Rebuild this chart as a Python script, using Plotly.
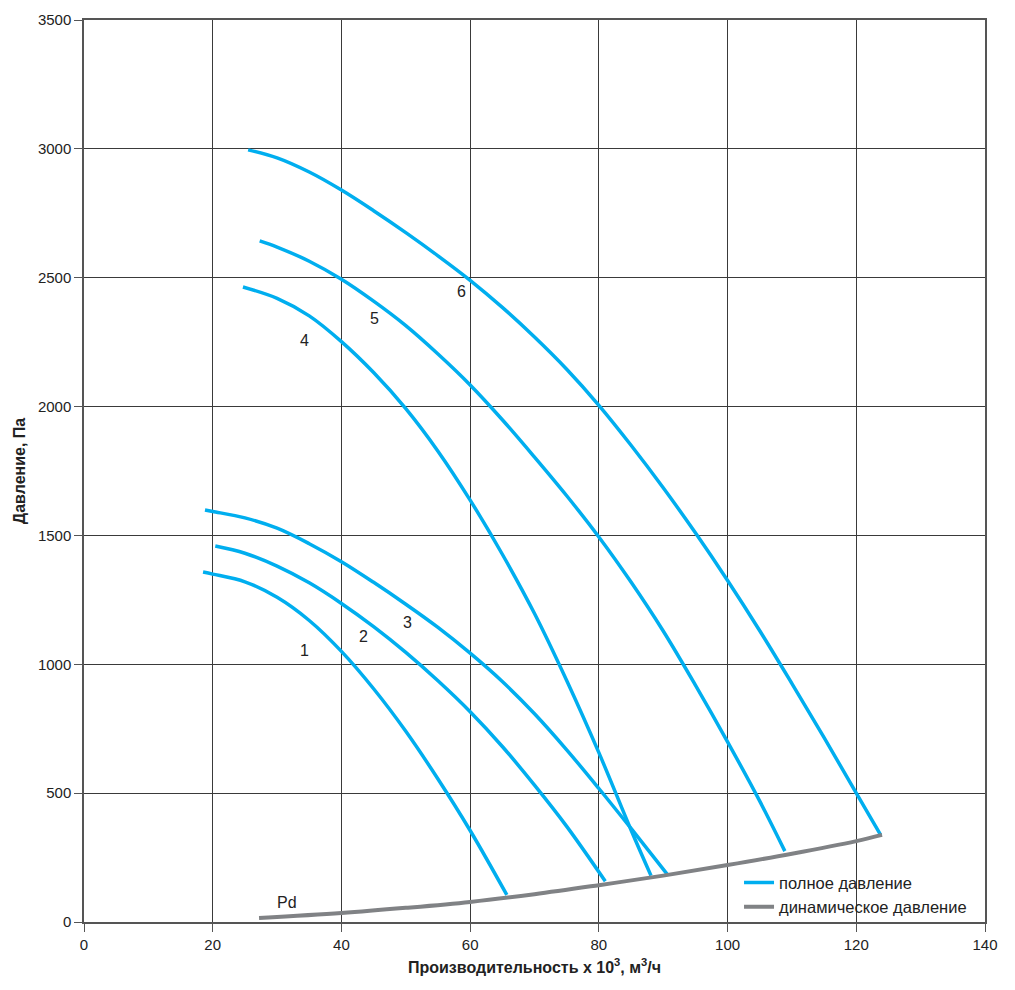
import plotly.graph_objects as go

# fan curves, flow x 10^3 m3/h vs total pressure Pa
x1 = [18.5, 20, 25, 30, 35, 40, 45, 50, 55, 60, 65.7]
p1 = [1358, 1350, 1320, 1260, 1170, 1050, 905, 740, 555, 355, 105]

x2 = [20.4, 25, 30, 35, 40, 45, 50, 55, 60, 65, 70, 75, 81]
p2 = [1459, 1431, 1381, 1316, 1236, 1146, 1046, 936, 816, 681, 531, 371, 158]

x3 = [18.8, 20, 25, 30, 35, 40, 45, 50, 55, 60, 65, 70, 75, 80, 85, 90.7]
p3 = [1599, 1593, 1568, 1528, 1468, 1398, 1318, 1233, 1143, 1043, 933, 808, 668, 518, 363, 183]

x4 = [24.7, 30, 35, 40, 45, 50, 55, 60, 65, 70, 75, 80, 85, 88.1]
p4 = [2464, 2420, 2352, 2252, 2132, 1992, 1827, 1637, 1427, 1197, 937, 657, 357, 180]

x5 = [27.3, 30, 35, 40, 45, 50, 55, 60, 65, 70, 75, 80, 85, 90, 95, 100, 105, 108.9]
p5 = [2643, 2619, 2564, 2494, 2409, 2314, 2204, 2084, 1949, 1804, 1654, 1494, 1319, 1129, 919, 699, 469, 275]

x6 = [25.5, 30, 35, 40, 45, 50, 55, 60, 65, 70, 75, 80, 85, 90, 95, 100, 105, 110, 115, 120, 123.8]
p6 = [2996, 2965, 2910, 2840, 2760, 2675, 2585, 2490, 2385, 2270, 2145, 2005, 1850, 1685, 1510, 1325, 1130, 925, 715, 500, 337]

# dynamic pressure
xd = [27.2, 40, 50, 60, 70, 80, 90, 100, 110, 120, 124]
pd_ = [16, 35, 55, 78, 108, 143, 180, 221, 265, 314, 338]

curve_labels = ['1', '2', '3', '4', '5', '6']
label_x = [34.3, 43.4, 50.2, 34.3, 45.2, 58.6]
label_y = [1055, 1106, 1164, 2258, 2340, 2445]

BLUE = '#00AEEF'
GRAY = '#808285'
FONT = 'Arial, Liberation Sans, sans-serif'

fig = go.Figure()

curves = [(x1, p1), (x2, p2), (x3, p3), (x4, p4), (x5, p5), (x6, p6)]
for i, (cx, cy) in enumerate(curves):
    fig.add_trace(go.Scatter(
        x=cx, y=cy, mode='lines',
        line=dict(color=BLUE, width=3.5, shape='spline', smoothing=1),
        name='полное давление', showlegend=(i == 0)))

fig.add_trace(go.Scatter(
    x=xd, y=pd_, mode='lines',
    line=dict(color=GRAY, width=4, shape='spline', smoothing=1),
    name='динамическое давление'))

for t, lx, ly in zip(curve_labels, label_x, label_y):
    fig.add_annotation(x=lx, y=ly, text=t, showarrow=False,
                       font=dict(size=16, color='#222', family=FONT))
fig.add_annotation(x=31.5, y=74, text='Pd', showarrow=False,
                   font=dict(size=16, color='#222', family=FONT))

axis_common = dict(
    showgrid=True, gridcolor='#3a3a3a', gridwidth=1.2,
    showline=True, linecolor='#555', linewidth=1.5, mirror=True,
    ticks='outside', ticklen=8, tickcolor='#555', tickwidth=1.2,
    zeroline=False, automargin=False,
    tickfont=dict(size=15, color='#222', family=FONT),
)

fig.update_layout(
    width=1015, height=990,
    margin=dict(l=76, r=38, t=12, b=76),
    plot_bgcolor='white', paper_bgcolor='white',
    font=dict(family=FONT, color='#222'),
    xaxis=dict(range=[0, 140], dtick=20,
               title=dict(text='<b>Производительность x 10<sup>3</sup>, м<sup>3</sup>/ч</b>',
                          font=dict(size=16, color='#222'), standoff=10),
               **axis_common),
    yaxis=dict(range=[0, 3500], dtick=500,
               title=dict(text='<b>Давление, Па</b>',
                          font=dict(size=16, color='#222'), standoff=8),
               **axis_common),
    legend=dict(x=0.727, y=0.063, xanchor='left', yanchor='top',
                bgcolor='rgba(255,255,255,0)', tracegroupgap=0,
                font=dict(size=16.5, color='#222', family=FONT)),
)

fig.write_html("out.html")
